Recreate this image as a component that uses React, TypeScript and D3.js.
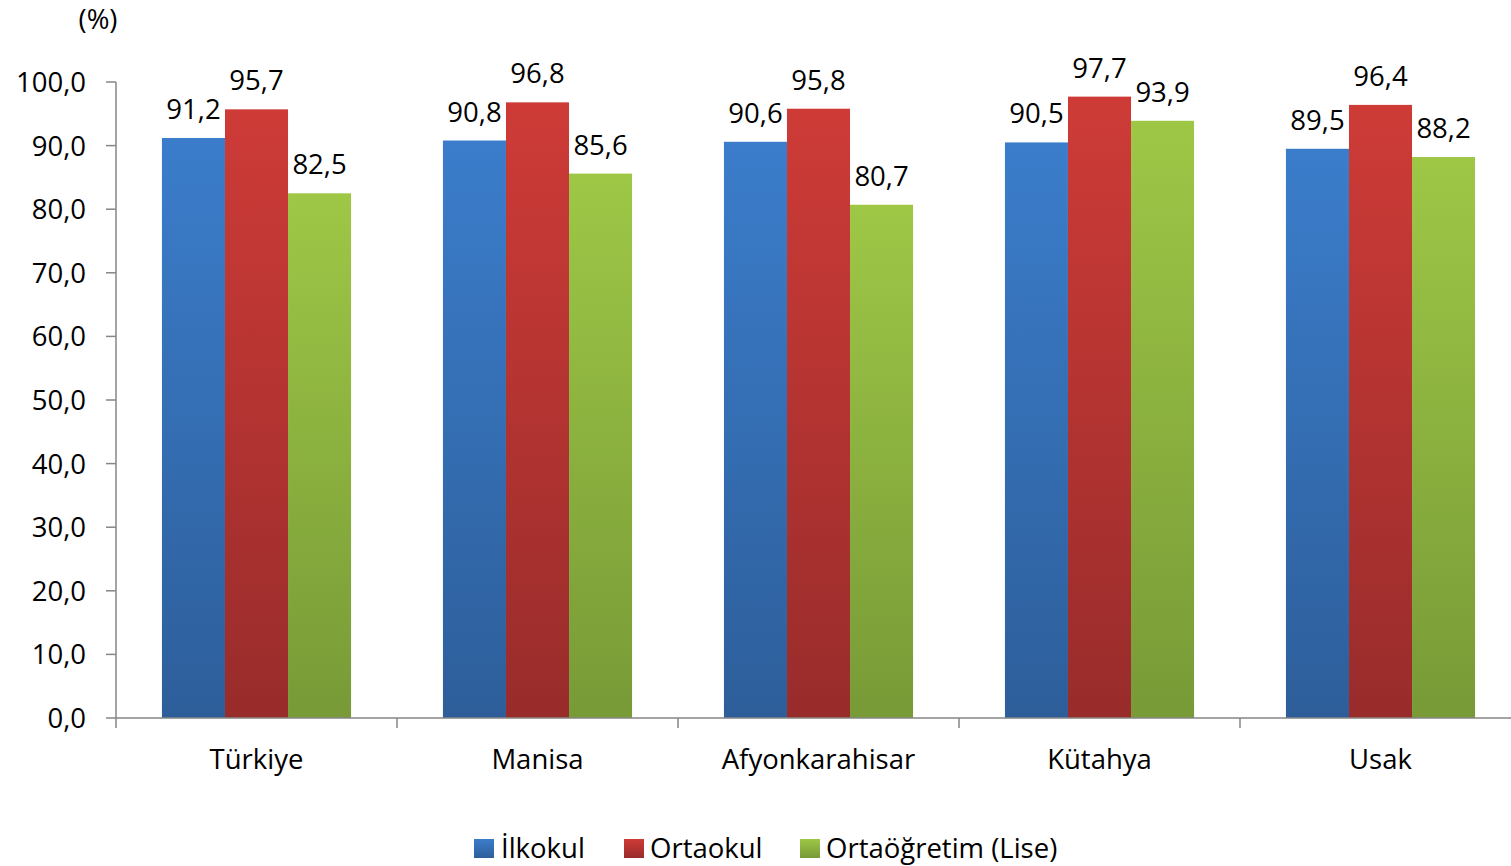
import React from "react";
import * as d3 from "d3";

const categories = ["Türkiye", "Manisa", "Afyonkarahisar", "Kütahya", "Usak"];
const seriesNames = ["İlkokul", "Ortaokul", "Ortaöğretim (Lise)"];
const ilkokul = [91.2, 90.8, 90.6, 90.5, 89.5];
const ortaokul = [95.7, 96.8, 95.8, 97.7, 96.4];
const lise = [82.5, 85.6, 80.7, 93.9, 88.2];
const yTicks = [0, 10, 20, 30, 40, 50, 60, 70, 80, 90, 100];

const seriesValues = [ilkokul, ortaokul, lise];
const gradients = [
  ["#3B7DCB", "#2D5E9A"],
  ["#CE3B37", "#982C2B"],
  ["#9EC746", "#789A37"],
];

const W = 1511;
const H = 866;
const FONT = "'Open Sans', 'Noto Sans', sans-serif";
const FS = 27.5;
const fmt = (v: number) => v.toFixed(1).replace(".", ",");

export default function App() {
  const left = 116;
  const step = 281;
  const x = d3
    .scaleBand<string>()
    .domain(categories)
    .range([left, left + step * categories.length])
    .paddingInner(0.327)
    .paddingOuter(0.1635);
  const xs = d3
    .scaleBand<number>()
    .domain([0, 1, 2])
    .range([0, x.bandwidth()]);
  const y = d3.scaleLinear().domain([0, 100]).range([718, 82]);
  const axisColor = "#868686";

  return (
    <svg
      width={W}
      height={H}
      style={{ position: "absolute", left: 0, top: 0, background: "#fff" }}
      fontFamily={FONT}
    >
      <defs>
        {gradients.map((g, i) => (
          <linearGradient key={i} id={`g${i}`} x1="0" y1="0" x2="0" y2="1">
            <stop offset="0%" stopColor={g[0]} />
            <stop offset="100%" stopColor={g[1]} />
          </linearGradient>
        ))}
      </defs>
      <text x={98} y={29} fontSize={FS} textAnchor="middle" fill="#000">
        (%)
      </text>
      {/* y axis */}
      <line x1={left} x2={left} y1={y(100)} y2={y(0)} stroke={axisColor} strokeWidth={1.5} />
      {yTicks.map((t) => (
        <g key={t}>
          <line x1={left - 10} x2={left} y1={y(t)} y2={y(t)} stroke={axisColor} strokeWidth={1.5} />
          <text x={86} y={y(t)} dy="0.36em" textAnchor="end" fontSize={FS} fill="#000">
            {fmt(t)}
          </text>
        </g>
      ))}
      {/* bars */}
      {categories.map((c, ci) =>
        seriesValues.map((vals, si) => {
          const bx = (x(c) as number) + (xs(si) as number);
          const bw = xs.bandwidth();
          const v = vals[ci];
          return (
            <g key={`${ci}-${si}`}>
              <rect x={bx} y={y(v)} width={bw} height={y(0) - y(v)} fill={`url(#g${si})`} />
              <text x={bx + bw / 2} y={y(v) - 19} textAnchor="middle" fontSize={FS} fill="#000">
                {fmt(v)}
              </text>
            </g>
          );
        })
      )}
      {/* x axis */}
      <line x1={left} x2={W} y1={y(0)} y2={y(0)} stroke={axisColor} strokeWidth={1.5} />
      {d3.range(categories.length + 1).map((i) => (
        <line
          key={i}
          x1={left + i * step}
          x2={left + i * step}
          y1={y(0)}
          y2={y(0) + 10}
          stroke={axisColor}
          strokeWidth={1.5}
        />
      ))}
      {categories.map((c) => (
        <text
          key={c}
          x={(x(c) as number) + x.bandwidth() / 2}
          y={769}
          textAnchor="middle"
          fontSize={FS}
          fill="#000"
        >
          {c}
        </text>
      ))}
      {/* legend */}
      {[
        { sx: 474, tx: 501 },
        { sx: 624, tx: 650 },
        { sx: 800, tx: 826 },
      ].map((p, i) => (
        <g key={i}>
          <rect x={p.sx} y={839} width={20} height={19} fill={`url(#g${i})`} />
          <text x={p.tx} y={858} fontSize={FS} fill="#000">
            {seriesNames[i]}
          </text>
        </g>
      ))}
    </svg>
  );
}
